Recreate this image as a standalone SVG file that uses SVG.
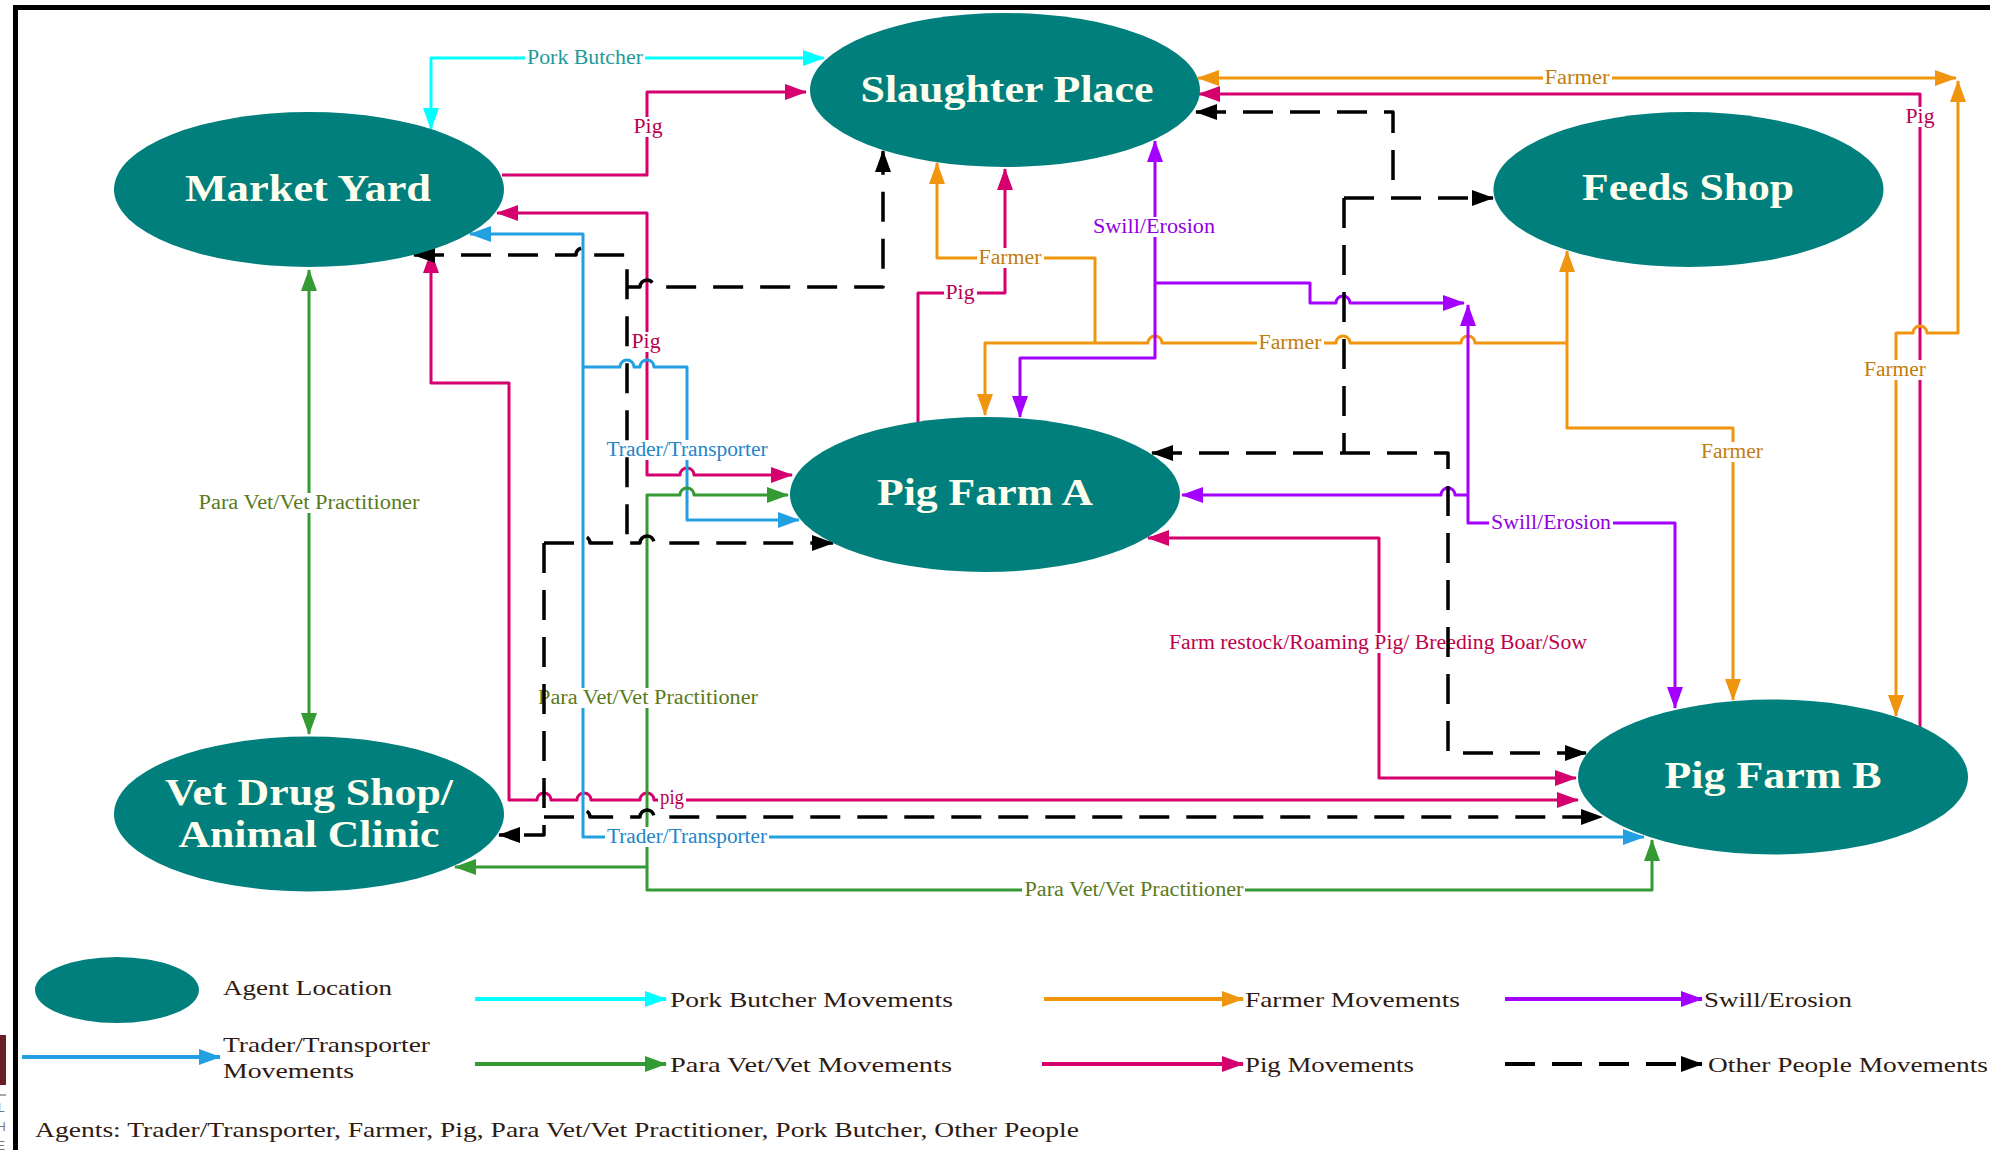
<svg xmlns="http://www.w3.org/2000/svg" width="1990" height="1150" viewBox="0 0 1990 1150">
<style>
.node{fill:#017F7C}
.nt{font-family:"Liberation Serif",serif;font-weight:bold;font-size:37px;fill:#FFFFF0;text-anchor:middle}
.c{fill:none;stroke-width:3;stroke-linejoin:round}
.cy{stroke:#00FFFF}
.pg{stroke:#D5006D}
.bl{stroke:#22A0E2}
.gr{stroke:#359A33}
.or{stroke:#F0960E}
.pu{stroke:#A400FF}
.bk{stroke:#000;stroke-width:3.5;stroke-dasharray:30 17}
.lb{font-family:"Liberation Serif",serif;font-size:20px;text-anchor:middle}
.bg{fill:#fff}
.lg{font-family:"Liberation Serif",serif;font-size:21px;fill:#2E1A12}
.lgl{fill:none;stroke-width:4}
</style>
<defs>
<marker id="mcy" viewBox="0 0 22 16" refX="21" refY="8" markerWidth="22" markerHeight="16" markerUnits="userSpaceOnUse" orient="auto-start-reverse"><path d="M0,0 L22,8 L0,16 z" fill="#00FFFF"/></marker>
<marker id="mpg" viewBox="0 0 22 16" refX="21" refY="8" markerWidth="22" markerHeight="16" markerUnits="userSpaceOnUse" orient="auto-start-reverse"><path d="M0,0 L22,8 L0,16 z" fill="#D5006D"/></marker>
<marker id="mbl" viewBox="0 0 22 16" refX="21" refY="8" markerWidth="22" markerHeight="16" markerUnits="userSpaceOnUse" orient="auto-start-reverse"><path d="M0,0 L22,8 L0,16 z" fill="#22A0E2"/></marker>
<marker id="mgr" viewBox="0 0 22 16" refX="21" refY="8" markerWidth="22" markerHeight="16" markerUnits="userSpaceOnUse" orient="auto-start-reverse"><path d="M0,0 L22,8 L0,16 z" fill="#359A33"/></marker>
<marker id="mor" viewBox="0 0 22 16" refX="21" refY="8" markerWidth="22" markerHeight="16" markerUnits="userSpaceOnUse" orient="auto-start-reverse"><path d="M0,0 L22,8 L0,16 z" fill="#F0960E"/></marker>
<marker id="mpu" viewBox="0 0 22 16" refX="21" refY="8" markerWidth="22" markerHeight="16" markerUnits="userSpaceOnUse" orient="auto-start-reverse"><path d="M0,0 L22,8 L0,16 z" fill="#A400FF"/></marker>
<marker id="mbk" viewBox="0 0 22 16" refX="21" refY="8" markerWidth="22" markerHeight="16" markerUnits="userSpaceOnUse" orient="auto-start-reverse"><path d="M0,0 L22,8 L0,16 z" fill="#000"/></marker>
</defs>
<rect width="1990" height="1150" fill="#fff"/>
<g id="frame">
<line x1="13" y1="7.5" x2="1990" y2="7.5" stroke="#000" stroke-width="5"/>
<line x1="15.5" y1="5" x2="15.5" y2="1150" stroke="#000" stroke-width="5"/>
<rect x="0" y="1035" width="6" height="50" fill="#6B1E2A"/>
<line x1="0" y1="1095" x2="6" y2="1095" stroke="#888" stroke-width="1.5"/>
<text x="-2" y="1112" font-family="Liberation Sans, sans-serif" font-size="12" fill="#777">L</text>
<text x="-3" y="1131" font-family="Liberation Sans, sans-serif" font-size="12" fill="#777">H</text>
<text x="-3" y="1150" font-family="Liberation Sans, sans-serif" font-size="12" fill="#777">E</text>
</g>
<g id="connectors">
<path class="c cy" d="M431,129 V58 H824" marker-start="url(#mcy)" marker-end="url(#mcy)"/>
<path class="c pg" d="M502,175 H647 V92 H806" marker-end="url(#mpg)"/>
<path class="c pg" d="M497,213 H647 V475 H680 a7,7 0 0 1 14,0 H792" marker-start="url(#mpg)" marker-end="url(#mpg)"/>
<path class="c pg" d="M918,422 V293 H1005 V169" marker-end="url(#mpg)"/>
<path class="c pg" d="M1920,727 V94 H1199" marker-end="url(#mpg)"/>
<path class="c pg" d="M1148,538 H1379 V778 H1576" marker-start="url(#mpg)" marker-end="url(#mpg)"/>
<path class="c pg" d="M431,252 V383 H509 V800 H537 a7,7 0 0 1 14,0 H577 a7,7 0 0 1 14,0 H640 a7,7 0 0 1 14,0 H1578" marker-start="url(#mpg)" marker-end="url(#mpg)"/>
<path class="c bl" d="M470,234 H583 V837 H1644" marker-start="url(#mbl)" marker-end="url(#mbl)"/>
<path class="c bl" d="M583,367 H620 a7,7 0 0 1 14,0 H640 a7,7 0 0 1 14,0 H687 V520 H799" marker-end="url(#mbl)"/>
<path class="c gr" d="M309,270 V734" marker-start="url(#mgr)" marker-end="url(#mgr)"/>
<path class="c gr" d="M455,867 H647 V495 H680 a7,7 0 0 1 14,0 H788" marker-start="url(#mgr)" marker-end="url(#mgr)"/>
<path class="c gr" d="M647,867 V890 H1652 V840" marker-end="url(#mgr)"/>
<path class="c or" d="M1956,78 H1198" marker-start="url(#mor)" marker-end="url(#mor)"/>
<path class="c or" d="M1896,716 V333 H1913 a7,7 0 0 1 14,0 H1958 V81" marker-start="url(#mor)" marker-end="url(#mor)"/>
<path class="c or" d="M937,163 V258 H1095 V343" marker-start="url(#mor)"/>
<path class="c or" d="M985,415 V343 H1148 a7,7 0 0 1 14,0 H1336 a7,7 0 0 1 14,0 H1461 a7,7 0 0 1 14,0 H1567" marker-start="url(#mor)"/>
<path class="c or" d="M1567,251 V428 H1733 V700" marker-start="url(#mor)" marker-end="url(#mor)"/>
<path class="c pu" d="M1155,141 V358 H1020 V417" marker-start="url(#mpu)" marker-end="url(#mpu)"/>
<path class="c pu" d="M1155,283 H1310 V303 H1336 a7,7 0 0 1 14,0 H1464" marker-end="url(#mpu)"/>
<path class="c pu" d="M1182,495 H1441 a7,7 0 0 1 14,0 H1468" marker-start="url(#mpu)"/>
<path class="c pu" d="M1468,305 V523 H1675 V708" marker-start="url(#mpu)" marker-end="url(#mpu)"/>
</g>
<g id="connector-labels">
<rect class="bg" x="525" y="48" width="120" height="20"/><text class="lb" x="585" y="64" fill="#1E9A9A" textLength="116" lengthAdjust="spacingAndGlyphs">Pork Butcher</text>
<rect class="bg" x="632" y="117" width="33" height="20"/><text class="lb" x="648" y="133" fill="#B8004F" textLength="29" lengthAdjust="spacingAndGlyphs">Pig</text>
<rect class="bg" x="630" y="332" width="33" height="20"/><text class="lb" x="646" y="348" fill="#B8004F" textLength="29" lengthAdjust="spacingAndGlyphs">Pig</text>
<rect class="bg" x="605" y="440" width="165" height="20"/><text class="lb" x="687" y="456" fill="#2485C8" textLength="161" lengthAdjust="spacingAndGlyphs">Trader/Transporter</text>
<rect class="bg" x="977" y="248" width="67" height="20"/><text class="lb" x="1010" y="264" fill="#C27C0E" textLength="63" lengthAdjust="spacingAndGlyphs">Farmer</text>
<rect class="bg" x="944" y="283" width="33" height="20"/><text class="lb" x="960" y="299" fill="#B8004F" textLength="29" lengthAdjust="spacingAndGlyphs">Pig</text>
<rect class="bg" x="1091" y="217" width="126" height="20"/><text class="lb" x="1154" y="233" fill="#9000E0" textLength="122" lengthAdjust="spacingAndGlyphs">Swill/Erosion</text>
<rect class="bg" x="1257" y="333" width="67" height="20"/><text class="lb" x="1290" y="349" fill="#C27C0E" textLength="63" lengthAdjust="spacingAndGlyphs">Farmer</text>
<rect class="bg" x="1543" y="68" width="69" height="20"/><text class="lb" x="1577" y="84" fill="#C27C0E" textLength="65" lengthAdjust="spacingAndGlyphs">Farmer</text>
<rect class="bg" x="1904" y="107" width="33" height="20"/><text class="lb" x="1920" y="123" fill="#B8004F" textLength="29" lengthAdjust="spacingAndGlyphs">Pig</text>
<rect class="bg" x="1862" y="360" width="66" height="20"/><text class="lb" x="1895" y="376" fill="#C27C0E" textLength="62" lengthAdjust="spacingAndGlyphs">Farmer</text>
<rect class="bg" x="1699" y="442" width="66" height="20"/><text class="lb" x="1732" y="458" fill="#C27C0E" textLength="62" lengthAdjust="spacingAndGlyphs">Farmer</text>
<rect class="bg" x="1489" y="513" width="124" height="20"/><text class="lb" x="1551" y="529" fill="#9000E0" textLength="120" lengthAdjust="spacingAndGlyphs">Swill/Erosion</text>
<rect class="bg" x="1167" y="633" width="422" height="20"/><text class="lb" x="1378" y="649" fill="#C0004A" textLength="418" lengthAdjust="spacingAndGlyphs">Farm restock/Roaming Pig/ Breeding Boar/Sow</text>
<rect class="bg" x="197" y="493" width="225" height="20"/><text class="lb" x="309" y="509" fill="#5A7A20" textLength="221" lengthAdjust="spacingAndGlyphs">Para Vet/Vet Practitioner</text>
<rect class="bg" x="536" y="688" width="224" height="20"/><text class="lb" x="648" y="704" fill="#5A7A20" textLength="220" lengthAdjust="spacingAndGlyphs">Para Vet/Vet Practitioner</text>
<rect class="bg" x="658" y="790" width="28" height="20"/><text class="lb" x="672" y="804" fill="#B8004F" textLength="24" lengthAdjust="spacingAndGlyphs">pig</text>
<rect class="bg" x="605" y="827" width="164" height="20"/><text class="lb" x="687" y="843" fill="#2485C8" textLength="160" lengthAdjust="spacingAndGlyphs">Trader/Transporter</text>
<rect class="bg" x="1022" y="880" width="223" height="20"/><text class="lb" x="1134" y="896" fill="#5A7A20" textLength="219" lengthAdjust="spacingAndGlyphs">Para Vet/Vet Practitioner</text>
</g>
<g id="dashed-connectors">
<path class="c bk" d="M414,255 H576 a7,7 0 0 1 14,0 H627 V543" marker-start="url(#mbk)"/>
<path class="c bk" d="M627,287 H640 a7,7 0 0 1 14,0 H883 V151" marker-end="url(#mbk)"/>
<path class="c bk" d="M544,543 H576 a7,7 0 0 1 14,0 H640 a7,7 0 0 1 14,0 H833" marker-end="url(#mbk)"/>
<path class="c bk" d="M544,543 V835 H499" marker-end="url(#mbk)"/>
<path class="c bk" d="M544,817 H576 a7,7 0 0 1 14,0 H640 a7,7 0 0 1 14,0 H1602" marker-end="url(#mbk)"/>
<path class="c bk" d="M1196,112 H1393 V198" marker-start="url(#mbk)"/>
<path class="c bk" d="M1344,198 H1493" marker-end="url(#mbk)"/>
<path class="c bk" d="M1344,198 V453"/>
<path class="c bk" d="M1152,453 H1448 V753 H1586" marker-start="url(#mbk)" marker-end="url(#mbk)"/>
</g>
<g id="market-yard"><ellipse class="node" cx="309" cy="189.5" rx="195" ry="77.5"/><text class="nt" x="308" y="201" textLength="246" lengthAdjust="spacingAndGlyphs">Market Yard</text></g>
<g id="slaughter-place"><ellipse class="node" cx="1005" cy="90" rx="195" ry="77"/><text class="nt" x="1007" y="102" textLength="293" lengthAdjust="spacingAndGlyphs">Slaughter Place</text></g>
<g id="feeds-shop"><ellipse class="node" cx="1688.5" cy="189.5" rx="195" ry="77.5"/><text class="nt" x="1688" y="200" textLength="212" lengthAdjust="spacingAndGlyphs">Feeds Shop</text></g>
<g id="pig-farm-a"><ellipse class="node" cx="985" cy="494.5" rx="195" ry="77.5"/><text class="nt" x="985" y="505" textLength="216" lengthAdjust="spacingAndGlyphs">Pig Farm A</text></g>
<g id="pig-farm-b"><ellipse class="node" cx="1773" cy="777" rx="195" ry="77.5"/><text class="nt" x="1773" y="788" textLength="217" lengthAdjust="spacingAndGlyphs">Pig Farm B</text></g>
<g id="vet-drug-shop"><ellipse class="node" cx="309" cy="814" rx="195" ry="77.5"/><text class="nt" x="309" y="805" textLength="288" lengthAdjust="spacingAndGlyphs">Vet Drug Shop/</text><text class="nt" x="309" y="847" textLength="261" lengthAdjust="spacingAndGlyphs">Animal Clinic</text></g>
<g id="legend">
<ellipse class="node" cx="117" cy="990" rx="82" ry="33"/>
<text class="lg" x="223" y="995" textLength="169" lengthAdjust="spacingAndGlyphs">Agent Location</text>
<path class="lgl" stroke="#22A0E2" d="M22,1057 H220" marker-end="url(#mbl)"/>
<text class="lg" x="223" y="1052" textLength="207" lengthAdjust="spacingAndGlyphs">Trader/Transporter</text>
<text class="lg" x="223" y="1078" textLength="131" lengthAdjust="spacingAndGlyphs">Movements</text>
<path class="lgl" stroke="#00FFFF" d="M475,999 H666" marker-end="url(#mcy)"/>
<text class="lg" x="670" y="1007" textLength="283" lengthAdjust="spacingAndGlyphs">Pork Butcher Movements</text>
<path class="lgl" stroke="#359A33" d="M475,1064 H666" marker-end="url(#mgr)"/>
<text class="lg" x="670" y="1072" textLength="282" lengthAdjust="spacingAndGlyphs">Para Vet/Vet Movements</text>
<path class="lgl" stroke="#F0960E" d="M1044,999 H1243" marker-end="url(#mor)"/>
<text class="lg" x="1245" y="1007" textLength="215" lengthAdjust="spacingAndGlyphs">Farmer Movements</text>
<path class="lgl" stroke="#D5006D" d="M1042,1064 H1243" marker-end="url(#mpg)"/>
<text class="lg" x="1245" y="1072" textLength="169" lengthAdjust="spacingAndGlyphs">Pig Movements</text>
<path class="lgl" stroke="#A400FF" d="M1505,999 H1702" marker-end="url(#mpu)"/>
<text class="lg" x="1704" y="1007" textLength="148" lengthAdjust="spacingAndGlyphs">Swill/Erosion</text>
<path class="lgl" stroke="#000" stroke-dasharray="30 17" d="M1505,1064 H1702" marker-end="url(#mbk)"/>
<text class="lg" x="1708" y="1072" textLength="280" lengthAdjust="spacingAndGlyphs">Other People Movements</text>
<text class="lg" x="35" y="1137" textLength="1044" lengthAdjust="spacingAndGlyphs">Agents: Trader/Transporter, Farmer, Pig, Para Vet/Vet Practitioner, Pork Butcher, Other People</text>
</g>
</svg>
